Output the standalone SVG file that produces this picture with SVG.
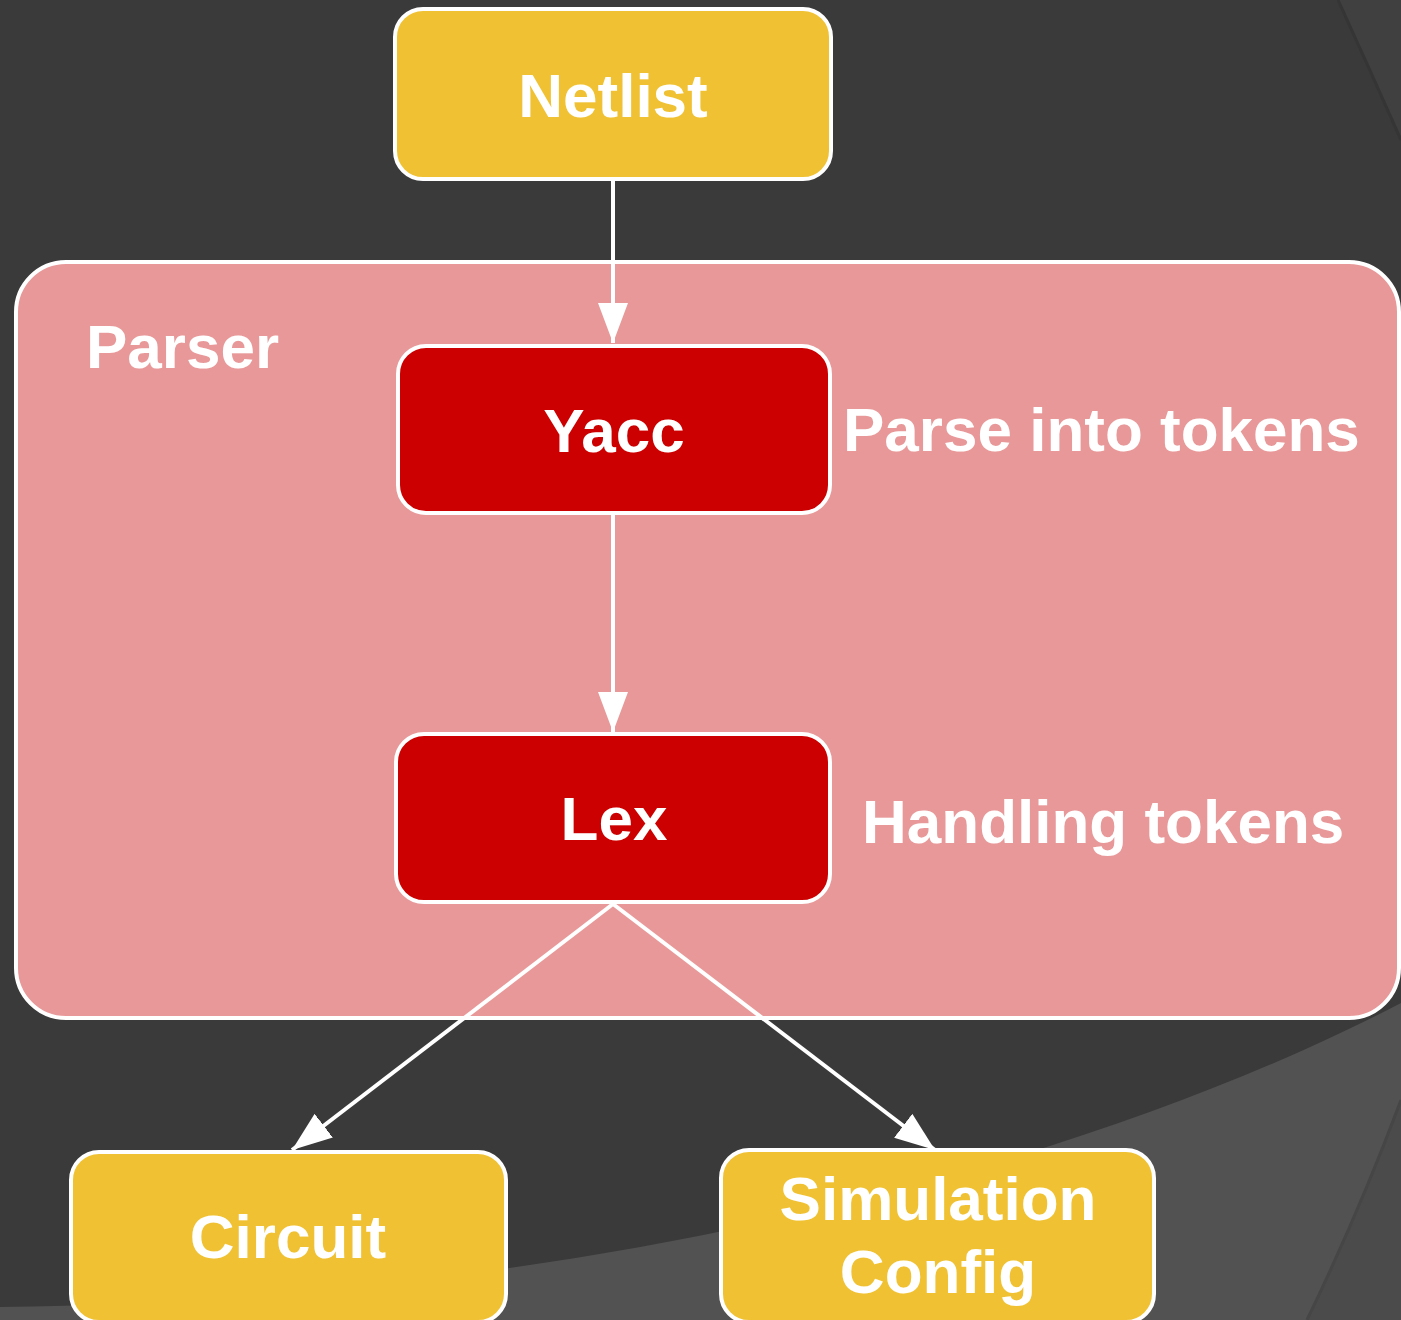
<svg xmlns="http://www.w3.org/2000/svg" width="1401" height="1320" viewBox="0 0 1401 1320">
<style>
  .lbl { font-family: "Liberation Sans", Arial, sans-serif; font-weight: bold; font-size: 62px; fill: #ffffff; }
  .mid { text-anchor: middle; }
  .yellow { fill: #f0c233; stroke: #ffffff; stroke-width: 4; }
  .red { fill: #cc0000; stroke: #ffffff; stroke-width: 4; }
  .group { fill: #e89898; stroke: #ffffff; stroke-width: 4; }
  .edge { stroke: #ffffff; stroke-width: 4; fill: none; marker-end: url(#arrow); }
</style>
<defs>
  <marker id="arrow" markerUnits="userSpaceOnUse" markerWidth="40" markerHeight="30" refX="40" refY="15" orient="auto">
    <path d="M0,0 L40,15 L0,30 Z" fill="#ffffff"/>
  </marker>
  <linearGradient id="shade" x1="0" y1="0" x2="1" y2="0">
    <stop offset="0" stop-color="#363636"/>
    <stop offset="1" stop-color="#3a3a3a"/>
  </linearGradient>
</defs>
<!-- background -->
<rect x="0" y="0" width="1401" height="1320" fill="#3a3a3a"/>
<path d="M1338,0 Q1370,70 1401,140 L1401,0 Z" fill="#404040"/>
<path d="M1338,0 Q1370,70 1401,140" stroke="#353535" stroke-width="3" fill="none"/>
<path d="M0,1307 C600,1300 1100,1160 1401,1003 L1401,1320 L0,1320 Z" fill="#525252"/>
<path d="M1401,1100 Q1360,1210 1307,1320 L1401,1320 Z" fill="#4b4b4b"/>
<path d="M1401,1100 Q1360,1210 1307,1320" stroke="#464646" stroke-width="3" fill="none"/>

<!-- group container -->
<g id="parser">
  <rect class="group" x="16" y="262" width="1383" height="756" rx="50" ry="50"/>
  <text class="lbl" x="86" y="368">Parser</text>
</g>

<!-- connectors -->
<g id="connectors">
  <line class="edge" x1="613" y1="180" x2="613" y2="343"/>
  <line class="edge" x1="613" y1="513" x2="613" y2="732"/>
  <line class="edge" x1="613" y1="904" x2="292" y2="1150"/>
  <line class="edge" x1="613" y1="904" x2="935" y2="1150"/>
</g>

<g id="netlist">
  <rect class="yellow" x="395" y="9" width="436" height="170" rx="28" ry="28"/>
  <text class="lbl mid" x="613" y="117">Netlist</text>
</g>

<g id="yacc">
  <rect class="red" x="398" y="346" width="432" height="167" rx="28" ry="28"/>
  <text class="lbl mid" x="614" y="452">Yacc</text>
</g>
<text id="yacc-note" class="lbl" x="843" y="451">Parse into tokens</text>

<g id="lex">
  <rect class="red" x="396" y="734" width="434" height="168" rx="28" ry="28"/>
  <text class="lbl mid" x="614" y="840">Lex</text>
</g>
<text id="lex-note" class="lbl" x="862" y="843">Handling tokens</text>

<g id="circuit">
  <rect class="yellow" x="71" y="1152" width="435" height="170" rx="28" ry="28"/>
  <text class="lbl mid" x="288" y="1258">Circuit</text>
</g>

<g id="simconfig">
  <rect class="yellow" x="721" y="1150" width="433" height="172" rx="28" ry="28"/>
  <text class="lbl mid" x="938" y="1220">Simulation</text>
  <text class="lbl mid" x="938" y="1293">Config</text>
</g>
</svg>
